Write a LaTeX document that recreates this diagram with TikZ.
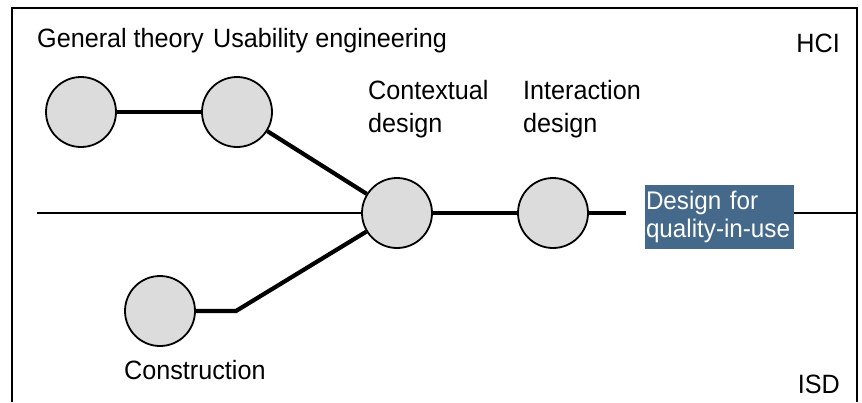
\documentclass[tikz,border=0pt]{standalone}
\usepackage{fontspec}
\setmainfont{Liberation Sans}[FakeStretch=0.95]
\usepackage{xcolor}
\usetikzlibrary{positioning}
\definecolor{qiublue}{RGB}{69,105,138}
\definecolor{phasegray}{RGB}{220,220,220}

\begin{document}
\begin{tikzpicture}[x=1pt, y=-1pt,
    phase/.style={circle, draw=black, line width=1.8pt, fill=phasegray, minimum size=70pt, inner sep=0pt},
    tag/.style={inner sep=0pt, font=\fontsize{26.5}{33}\selectfont, align=left},
    path/.style={black, line width=4.2pt},
    axis/.style={black, line width=1.8pt}]
    \useasboundingbox (0,0) rectangle (862,402);
    \draw[axis] (12,402) -- (12,8) -- (857,8) -- (857,402);
    \node[phase] (gen) at (81,112) {};
    \node[phase] (usa) at (237,112) {};
    \node[phase] (ctx) at (397,213) {};
    \node[phase] (int) at (553,213) {};
    \node[phase] (con) at (160,311) {};
    \node[fill=qiublue, text=white, inner xsep=1pt, inner ysep=0pt, text width=147pt, minimum height=64pt,
        align=left, font=\fontsize{25.5}{28}\selectfont] (dqu) at (719.5,217) {Design for\\quality-in-use};
    \coordinate (lstart) at (37,213);
    \coordinate (rend) at (857,213);
    \coordinate (tend) at (626,213);
    \coordinate (cbend) at (236,311);
    \draw[axis] (lstart) -- (ctx);
    \draw[axis] (dqu.east |- rend) -- (rend);
    \draw[path] (gen) -- (usa);
    \draw[path] (usa) -- (ctx);
    \draw[path] (ctx) -- (int);
    \draw[path] (int) -- (tend);
    \draw[path, line join=miter] (con) -- (cbend) -- (ctx);
    \node[tag, anchor=base west] (tgen) at (37,47) {General theory};
    \node[tag, anchor=base west] (tusa) at (213,47) {Usability engineering};
    \node[tag, anchor=base west] (tctx) at (368,132) {Contextual\\design};
    \node[tag, anchor=base west] (tint) at (523,132) {Interaction\\design};
    \node[tag, anchor=base west] (tcon) at (124,379) {Construction};
    \node[tag, anchor=base east] (thci) at (840,52) {HCI};
    \node[tag, anchor=base east] (tisd) at (840,393) {ISD};
\end{tikzpicture}
\end{document}
